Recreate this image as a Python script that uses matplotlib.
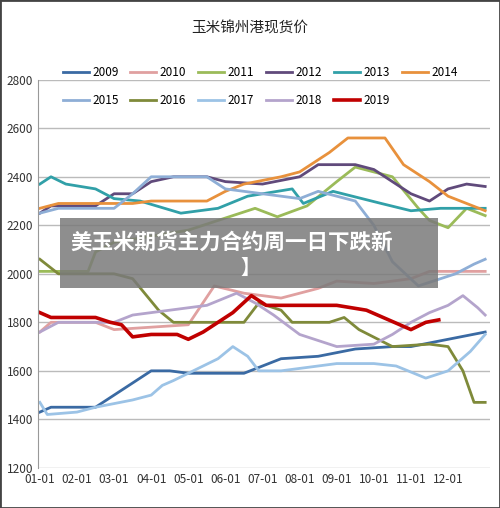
import matplotlib.pyplot as plt
from matplotlib.patches import Rectangle

plt.rcParams['font.family'] = ['Noto Sans CJK SC', 'DejaVu Sans']

months = ["01-01", "02-01", "03-01", "04-01", "05-01", "06-01",
          "07-01", "08-01", "09-01", "10-01", "11-01", "12-01"]

# (month position, price) per year
s2009 = [(0, 1430), (0.3, 1450), (1.5, 1450), (2.0, 1500), (2.5, 1550), (3.0, 1600), (3.5, 1600),
         (4.0, 1590), (5.5, 1590), (6.5, 1650), (7.5, 1660), (8.5, 1690), (9.5, 1700), (10, 1700),
         (11, 1730), (12, 1760)]
s2010 = [(0, 1760), (0.3, 1800), (1.5, 1800), (2.0, 1770), (4.0, 1790), (4.7, 1950), (5.5, 1920),
         (6.5, 1900), (7.5, 1940), (8, 1970), (9, 1960), (10, 1980), (10.5, 2010), (12, 2010)]
s2011 = [(0, 2010), (1.3, 2010), (1.5, 2090), (2.0, 2130), (4.0, 2180), (5.2, 2240), (5.8, 2270),
         (6.4, 2235), (7.2, 2280), (8.0, 2380), (8.5, 2440), (9.5, 2400), (10.2, 2270), (10.5, 2220),
         (11.0, 2190), (11.5, 2270), (12, 2240)]
s2012 = [(0, 2250), (0.3, 2280), (1.5, 2280), (2.0, 2330), (2.5, 2330), (3.0, 2380), (3.6, 2400),
         (4.5, 2400), (5.0, 2380), (6.0, 2370), (7.0, 2400), (7.5, 2450), (8.5, 2450), (9.0, 2430),
         (10.0, 2330), (10.5, 2300), (11.0, 2350), (11.5, 2370), (12, 2360)]
s2013 = [(0, 2370), (0.3, 2400), (0.7, 2370), (1.5, 2350), (2.0, 2310), (2.7, 2300), (3.8, 2250),
         (4.8, 2270), (5.6, 2320), (6.8, 2350), (7.1, 2290), (7.9, 2340), (9.2, 2290), (10.0, 2260),
         (10.8, 2270), (12, 2270)]
s2014 = [(0, 2270), (0.5, 2290), (2.5, 2290), (3.0, 2300), (4.5, 2300), (5.0, 2340), (5.5, 2370),
         (6.5, 2400), (7.0, 2420), (7.8, 2500), (8.3, 2560), (9.3, 2560), (9.8, 2450), (10.5, 2380),
         (11.0, 2320), (11.5, 2290), (12, 2260)]
s2015 = [(0, 2250), (0.5, 2270), (2.0, 2270), (2.5, 2330), (3.0, 2400), (4.5, 2400), (5.0, 2350),
         (6.0, 2330), (7.0, 2310), (7.5, 2340), (8.5, 2300), (9.0, 2200), (9.5, 2050), (10.2, 1950),
         (10.8, 1980), (11.2, 2000), (11.7, 2040), (12, 2060)]
s2016 = [(0, 2060), (0.5, 2000), (2.0, 2000), (2.5, 1980), (3.2, 1850), (3.6, 1800), (5.5, 1800),
         (5.9, 1880), (6.5, 1850), (6.8, 1800), (7.8, 1800), (8.2, 1820), (8.6, 1770), (9.5, 1700),
         (10.5, 1710), (11.0, 1700), (11.4, 1600), (11.7, 1470), (12, 1470)]
s2017 = [(0, 1470), (0.2, 1420), (1.0, 1430), (1.5, 1450), (2.5, 1480), (3.0, 1500), (3.3, 1540),
         (3.6, 1560), (4.0, 1590), (4.4, 1620), (4.8, 1650), (5.2, 1700), (5.6, 1660), (5.9, 1600),
         (6.5, 1600), (8.0, 1630), (9.0, 1630), (9.6, 1620), (10.4, 1570), (11.0, 1600), (11.6, 1680),
         (12, 1750)]
s2018 = [(0, 1760), (0.5, 1800), (2.0, 1800), (2.5, 1830), (3.5, 1850), (4.5, 1870), (5.3, 1920),
         (5.8, 1880), (6.3, 1830), (7.0, 1750), (8.0, 1700), (9.0, 1710), (9.5, 1750), (10.0, 1800),
         (10.5, 1840), (11.0, 1870), (11.4, 1910), (11.8, 1860), (12, 1830)]
s2019 = [(0, 1840), (0.3, 1820), (1.5, 1820), (1.9, 1800), (2.2, 1790), (2.5, 1740), (3.0, 1750),
         (3.7, 1750), (4.0, 1730), (4.4, 1760), (4.8, 1800), (5.2, 1840), (5.7, 1910), (6.1, 1870),
         (8.0, 1870), (8.8, 1850), (9.4, 1810), (10.0, 1770), (10.4, 1800), (10.75, 1810)]

series = [("2009", s2009, "#3a6aa3"), ("2010", s2010, "#e0a0a0"), ("2011", s2011, "#9bbb59"),
          ("2012", s2012, "#604a7b"), ("2013", s2013, "#31a0a8"), ("2014", s2014, "#e8913c"),
          ("2015", s2015, "#8eaed6"), ("2016", s2016, "#7f8a3a"), ("2017", s2017, "#9cc3e6"),
          ("2018", s2018, "#b4a4cc"), ("2019", s2019, "#c00000")]

fig = plt.figure(figsize=(5.0, 5.08), dpi=100)
ax = fig.add_axes([0.076, 0.079, 0.904, 0.764])

handles = {}
for name, pts, col in series:
    xs = [p[0] for p in pts]
    ys = [p[1] for p in pts]
    handles[name], = ax.plot(xs, ys, color=col, lw=2.6 if name == "2019" else 2.0, label=name)

ax.set_ylim(1200, 2800)
ax.set_xlim(-0.05, 12.13)
ax.set_yticks(range(1200, 2801, 200))
ax.set_xticks(range(12))
ax.set_xticklabels(months)
ax.tick_params(labelsize=8.5, length=0, colors="#333333")
ax.grid(axis="y", color="#bbbbbb", lw=1)
for sp in ["top", "right", "bottom"]:
    ax.spines[sp].set_visible(False)
ax.spines["left"].set_color("#999999")
ax.set_axisbelow(True)

fig.text(0.5, 0.935, "玉米锦州港现货价", ha="center", fontsize=10.5, color="#222222")
# column-major fill so rows read 2009..2014 / 2015..2019
order = ["2009", "2015", "2010", "2016", "2011", "2017", "2012", "2018", "2013", "2019", "2014"]
fig.legend([handles[k] for k in order], order, ncol=6, loc="center", bbox_to_anchor=(0.52, 0.83),
           frameon=False, fontsize=8.5, handlelength=2.2, columnspacing=1.0, handletextpad=0.3,
           labelspacing=1.3)

fig.patches.append(Rectangle((60 / 500, 1 - 288 / 508), 378 / 500, 70 / 508, transform=fig.transFigure,
                             facecolor="#7a7a7a", alpha=0.85, zorder=5))
fig.text(0.14, 1 - 242 / 508, "美玉米期货主力合约周一日下跌新", fontsize=15.5, weight="bold",
         color="white", va="center", zorder=6)
fig.text(0.48, 1 - 268 / 508, "】", fontsize=14, weight="bold", color="white", va="center", zorder=6)

fig.patches.append(Rectangle((0, 0), 1, 1, transform=fig.transFigure, fill=False,
                             edgecolor="#444444", lw=2))
fig.savefig("out.png", dpi=100)
